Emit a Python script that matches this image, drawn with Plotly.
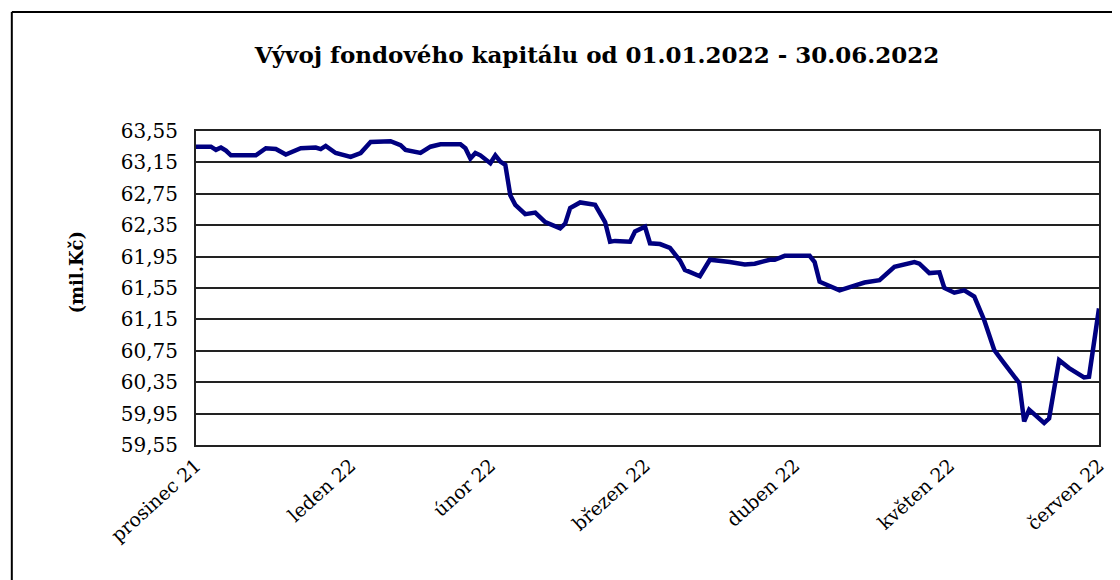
import plotly.graph_objects as go

dates = [
    "2021-12-31", "2022-01-03", "2022-01-04", "2022-01-05", "2022-01-06", "2022-01-07",
    "2022-01-12", "2022-01-14", "2022-01-16", "2022-01-18", "2022-01-21", "2022-01-24",
    "2022-01-25", "2022-01-26", "2022-01-28", "2022-01-31", "2022-02-02", "2022-02-04",
    "2022-02-08", "2022-02-10", "2022-02-11", "2022-02-14", "2022-02-16", "2022-02-18",
    "2022-02-22", "2022-02-23", "2022-02-24", "2022-02-25", "2022-02-26", "2022-02-28",
    "2022-03-01", "2022-03-02", "2022-03-03", "2022-03-04", "2022-03-05", "2022-03-07",
    "2022-03-09", "2022-03-11", "2022-03-14", "2022-03-15", "2022-03-16", "2022-03-18",
    "2022-03-21", "2022-03-22", "2022-03-23", "2022-03-24", "2022-03-25", "2022-03-28",
    "2022-03-29", "2022-03-31", "2022-04-01", "2022-04-03", "2022-04-05", "2022-04-07",
    "2022-04-08", "2022-04-11", "2022-04-13", "2022-04-17", "2022-04-20", "2022-04-22",
    "2022-04-25", "2022-04-26", "2022-04-28", "2022-05-03", "2022-05-04", "2022-05-05",
    "2022-05-09", "2022-05-12", "2022-05-14", "2022-05-17", "2022-05-20", "2022-05-24",
    "2022-05-25", "2022-05-27", "2022-05-29", "2022-05-30", "2022-06-01", "2022-06-03",
    "2022-06-05", "2022-06-07", "2022-06-09", "2022-06-11", "2022-06-14", "2022-06-15",
    "2022-06-16", "2022-06-19", "2022-06-20", "2022-06-22", "2022-06-24", "2022-06-27",
    "2022-06-28", "2022-06-30",
]
values = [
    63.35, 63.35, 63.31, 63.34, 63.30, 63.24,
    63.24, 63.33, 63.32, 63.25, 63.33, 63.34,
    63.32, 63.36, 63.27, 63.22, 63.27, 63.41,
    63.42, 63.37, 63.31, 63.27, 63.35, 63.38,
    63.38, 63.33, 63.20, 63.27, 63.24, 63.14,
    63.24, 63.16, 63.12, 62.73, 62.61, 62.49,
    62.51, 62.39, 62.31, 62.37, 62.57, 62.64,
    62.61, 62.50, 62.39, 62.14, 62.15, 62.14,
    62.27, 62.33, 62.12, 62.11, 62.06, 61.90,
    61.78, 61.70, 61.91, 61.88, 61.85, 61.86,
    61.91, 61.91, 61.96, 61.96, 61.88, 61.63,
    61.52, 61.58, 61.62, 61.65, 61.82, 61.88,
    61.86, 61.74, 61.75, 61.55, 61.49, 61.52,
    61.44, 61.14, 60.76, 60.59, 60.34, 59.85,
    60.00, 59.83, 59.89, 60.63, 60.53, 60.41,
    60.42, 61.29,
]

tick_dates = ["2021-12-31", "2022-01-31", "2022-02-28", "2022-03-31",
              "2022-04-30", "2022-05-31", "2022-06-30"]
tick_labels = ["prosinec 21", "leden 22", "únor 22", "březen 22",
               "duben 22", "květen 22", "červen 22"]
y_ticks = [59.55, 59.95, 60.35, 60.75, 61.15, 61.55, 61.95, 62.35, 62.75, 63.15, 63.55]

title_text = "Vývoj fondového kapitálu od 01.01.2022 - 30.06.2022"
y_title = "(mil.Kč)"

SERIF = "DejaVu Serif, Liberation Serif, serif"

W, H = 1112, 572          # page body has an 8px margin
L, T = 188, 123            # plot area top-left inside the figure
PW, PH = 907, 314          # plot area size

fig = go.Figure()
fig.add_trace(go.Scatter(
    x=dates, y=values, mode="lines",
    line=dict(color="#000080", width=4.5),
    hoverinfo="x+y", showlegend=False,
))

fig.update_layout(
    width=W, height=H,
    margin=dict(l=L, r=W - L - PW, t=T, b=H - T - PH, pad=0),
    paper_bgcolor="white", plot_bgcolor="white",
    separators=", ",
    title=dict(text="<b>" + title_text + "</b>", x=589 / W, xanchor="center",
               xref="container", y=1 - 47 / H, yanchor="middle", yref="container",
               font=dict(family=SERIF, size=23, color="black")),
    xaxis=dict(
        type="date", range=["2021-12-31", "2022-06-30"],
        tickmode="array", tickvals=tick_dates, ticktext=tick_labels,
        tickangle=-42, tickfont=dict(family=SERIF, size=19, color="black"),
        showgrid=False, showline=True, linecolor="#222", linewidth=2, mirror=True,
        ticks="", zeroline=False,
    ),
    yaxis=dict(
        range=[59.55, 63.55], tickmode="array", tickvals=y_ticks,
        tickformat=".2f", tickfont=dict(family=SERIF, size=20, color="black"),
        showgrid=True, gridcolor="#222", gridwidth=2,
        showline=True, linecolor="#222", linewidth=2, mirror=True,
        ticks="", zeroline=False, ticklabelstandoff=12,
    ),
    annotations=[dict(
        text="<b>" + y_title + "</b>", x=(67 - L) / PW, y=(T + PH - 264) / PH,
        xref="paper", yref="paper", textangle=-90, showarrow=False,
        xanchor="center", yanchor="middle",
        font=dict(family=SERIF, size=18, color="black"),
    )],
    shapes=[
        dict(type="line", xref="paper", yref="paper",
             x0=(3 - L) / PW, x1=(W + 10 - L) / PW,
             y0=(T + PH - 4) / PH, y1=(T + PH - 4) / PH,
             line=dict(color="black", width=2)),
        dict(type="line", xref="paper", yref="paper",
             x0=(3 - L) / PW, x1=(3 - L) / PW,
             y0=(T + PH - 4) / PH, y1=(T + PH - H - 10) / PH,
             line=dict(color="black", width=2)),
    ],
)

fig.write_html("out.html")
